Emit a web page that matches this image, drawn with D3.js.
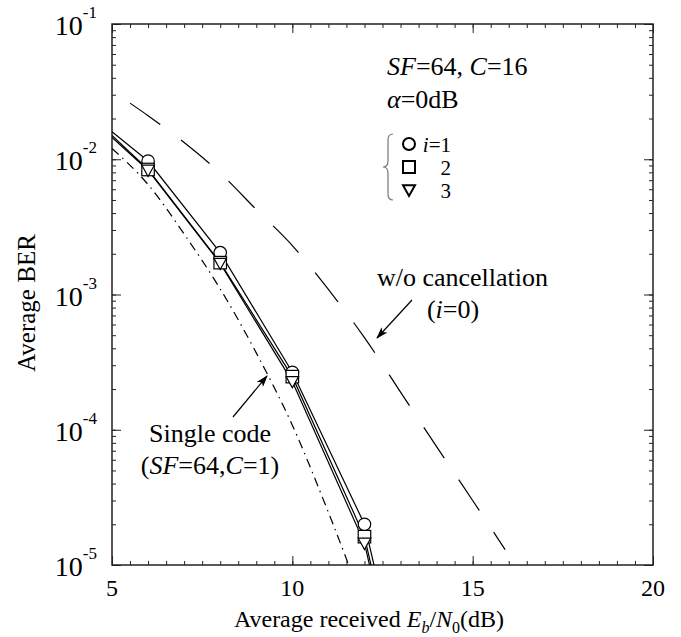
<!DOCTYPE html>
<html lang="en">
<head>
<meta charset="UTF-8">
<title>Average BER vs Eb/N0</title>
<script src="https://d3js.org/d3.v7.min.js"></script>
<style>
    body { margin: 0; background: #fff; }
    svg { font-family: "Liberation Serif", "DejaVu Serif", serif; }
</style>
</head>
<body>
<svg id="chart" width="681" height="637"></svg>
<script>
    // Eb/N0 (dB) for the multi-code curves, i = 1, 2, 3
    let snr = [5, 6, 8, 10, 12, 12.4]
    let berI1 = [1.6e-2, 9.7e-3, 2.04e-3, 2.66e-4, 2.0e-5, 7.0e-6]
    let berI2 = [1.5e-2, 8.4e-3, 1.72e-3, 2.47e-4, 1.62e-5, 5.6e-6]
    let berI3 = [1.45e-2, 8.3e-3, 1.70e-3, 2.27e-4, 1.45e-5, 5.0e-6]
    let markerSnr = [6, 8, 10, 12]

    // single code (SF=64, C=1), dash-dot
    let snrSingle = [5, 6, 7, 8, 9, 10, 11, 12]
    let berSingle = [1.2e-2, 6.5e-3, 2.8e-3, 1.1e-3, 3.7e-4, 1.08e-4, 2.45e-5, 4.9e-6]

    // without cancellation (i=0), long dash
    let snrNoCanc = [5.5, 6, 7, 8, 9, 10, 11, 12, 13, 14, 15, 15.9]
    let berNoCanc = [2.6e-2, 2.1e-2, 1.33e-2, 7.9e-3, 4.25e-3, 2.3e-3, 1.09e-3, 4.8e-4, 1.9e-4, 7.5e-5, 3.0e-5, 1.3e-5]

    let xTicks = [5, 10, 15, 20]
    let yTicks = [1e-5, 1e-4, 1e-3, 1e-2, 1e-1]

    let pLeft = 112, pRight = 653, pTop = 24, pBottom = 565

    let svg = d3.select("#chart")
    let x = d3.scaleLinear().domain([5, 20]).range([pLeft, pRight])
    let y = d3.scaleLog().domain([1e-5, 1e-1]).range([pBottom, pTop])

    let defs = svg.append("defs")
    defs.append("clipPath").attr("id", "plotClip")
        .append("rect")
        .attr("x", pLeft).attr("y", pTop)
        .attr("width", pRight - pLeft).attr("height", pBottom - pTop)
    defs.append("marker")
        .attr("id", "arrowHead")
        .attr("viewBox", "0 0 12 8")
        .attr("refX", 11).attr("refY", 4)
        .attr("markerWidth", 12).attr("markerHeight", 8)
        .attr("markerUnits", "userSpaceOnUse")
        .attr("orient", "auto")
        .append("path")
        .attr("d", "M0,0 L12,4 L0,8 L3,4 Z")
        .attr("fill", "black")

    // minor ticks (every 0.5 dB / 2..9 per decade)
    let xMinor = d3.range(5, 20.01, 0.5)
    let yMinor = []
    yTicks.slice(0, 4).forEach(d => {
        for (let k = 1; k < 10; k++) yMinor.push(d * k)
    })
    yMinor.push(1e-1)

    function tickAxis(makeAxis, minorVals, majorVals, transform) {
        svg.append("g").attr("transform", transform)
            .call(makeAxis().tickValues(minorVals).tickSize(-4).tickFormat(""))
            .call(g => g.select(".domain").remove())
            .call(g => g.selectAll("line").attr("stroke", "#222"))
        svg.append("g").attr("transform", transform)
            .call(makeAxis().tickValues(majorVals).tickSize(-9).tickFormat(""))
            .call(g => g.select(".domain").remove())
            .call(g => g.selectAll("line").attr("stroke", "#222"))
    }
    tickAxis(() => d3.axisBottom(x), xMinor, xTicks, `translate(0,${pBottom})`)
    tickAxis(() => d3.axisTop(x), xMinor, xTicks, `translate(0,${pTop})`)
    tickAxis(() => d3.axisLeft(y), yMinor, yTicks, `translate(${pLeft},0)`)
    tickAxis(() => d3.axisRight(y), yMinor, yTicks, `translate(${pRight},0)`)

    svg.append("rect")
        .attr("x", pLeft).attr("y", pTop)
        .attr("width", pRight - pLeft).attr("height", pBottom - pTop)
        .attr("fill", "none").attr("stroke", "#222").attr("stroke-width", 1.5)

    // tick labels
    svg.append("g").selectAll("text")
        .data(xTicks).join("text")
        .attr("x", d => x(d)).attr("y", pBottom + 31)
        .attr("text-anchor", "middle")
        .attr("font-size", 24)
        .text(d => d)

    let yLab = svg.append("g").selectAll("text")
        .data(yTicks).join("text")
        .attr("x", 97).attr("y", d => y(d) + 11)
        .attr("text-anchor", "end")
        .attr("font-size", 28)
    yLab.append("tspan").text("10")
    yLab.append("tspan").attr("font-size", 17).attr("dy", -17)
        .text(d => "-" + Math.round(-Math.log10(d)))

    // axis titles
    let xTitle = svg.append("text")
        .attr("x", 369).attr("y", 627)
        .attr("text-anchor", "middle")
        .attr("font-size", 24)
    xTitle.append("tspan").text("Average received ")
    xTitle.append("tspan").attr("font-style", "italic").text("E")
    xTitle.append("tspan").attr("font-style", "italic").attr("font-size", 16).attr("dy", 6).text("b")
    xTitle.append("tspan").attr("dy", -6).text("/")
    xTitle.append("tspan").attr("font-style", "italic").text("N")
    xTitle.append("tspan").attr("font-size", 16).attr("dy", 6).text("0")
    xTitle.append("tspan").attr("dy", -6).text("(dB)")

    svg.append("text")
        .attr("transform", "translate(35,303) rotate(-90)")
        .attr("text-anchor", "middle")
        .attr("font-size", 25)
        .text("Average BER")

    // curves
    let plot = svg.append("g").attr("clip-path", "url(#plotClip)")
    let smooth = d3.line()
        .x(d => x(d[0])).y(d => y(d[1]))
        .curve(d3.curveMonotoneX)
    let straight = d3.line()
        .x(d => x(d[0])).y(d => y(d[1]))

    let zip = (a, b) => a.map((v, i) => [v, b[i]])

    plot.append("path").datum(zip(snrNoCanc, berNoCanc))
        .attr("d", smooth).attr("fill", "none")
        .attr("stroke", "black").attr("stroke-width", 1.2)
        .attr("stroke-dasharray", "37,26")
    plot.append("path").datum(zip(snrSingle, berSingle))
        .attr("d", smooth).attr("fill", "none")
        .attr("stroke", "black").attr("stroke-width", 1.2)
        .attr("stroke-dasharray", "9,5,1.5,5")

    let series = [
        {ber: berI1, shape: "circle"},
        {ber: berI2, shape: "square"},
        {ber: berI3, shape: "triangle"}
    ]
    series.forEach(s => {
        plot.append("path").datum(zip(snr, s.ber))
            .attr("d", straight).attr("fill", "none")
            .attr("stroke", "black").attr("stroke-width", 1.2)
    })

    function drawMarker(g, shape, cx, cy, size, sw) {
        let r = size / 2
        let el
        if (shape === "circle") {
            el = g.append("circle").attr("cx", cx).attr("cy", cy).attr("r", r)
        } else if (shape === "square") {
            el = g.append("rect").attr("x", cx - r).attr("y", cy - r)
                .attr("width", size).attr("height", size)
        } else {
            el = g.append("path")
                .attr("d", `M${cx - r},${cy - r * 0.8} L${cx + r},${cy - r * 0.8} L${cx},${cy + r} Z`)
        }
        el.attr("fill", "white").attr("stroke", "black").attr("stroke-width", sw)
    }

    let markG = svg.append("g")
    series.forEach(s => {
        zip(snr, s.ber).filter(d => markerSnr.includes(d[0])).forEach(d => {
            drawMarker(markG, s.shape, x(d[0]), y(d[1]), 12.5, 1.2)
        })
    })

    // annotations
    let t1 = svg.append("text").attr("x", 387).attr("y", 75).attr("font-size", 26)
    t1.append("tspan").attr("font-style", "italic").text("SF")
    t1.append("tspan").text("=64, ")
    t1.append("tspan").attr("font-style", "italic").text("C")
    t1.append("tspan").text("=16")

    let t2 = svg.append("text").attr("x", 387).attr("y", 108).attr("font-size", 26)
    t2.append("tspan").attr("font-style", "italic").text("α")
    t2.append("tspan").text("=0dB")

    // legend
    let legendShapes = ["circle", "square", "triangle"]
    let legendLabels = ["1", "2", "3"]
    let legendY = [144, 167, 190]
    let legG = svg.append("g")
    legendShapes.forEach((sh, i) => {
        drawMarker(legG, sh, 409, legendY[i], 12, 2)
        let t = legG.append("text").attr("x", 451).attr("y", legendY[i] + 8)
            .attr("text-anchor", "end").attr("font-size", 21)
        if (i === 0) {
            t.append("tspan").attr("font-style", "italic").text("i")
            t.append("tspan").text("=")
        }
        t.append("tspan").text(legendLabels[i])
    })
    legG.append("path")
        .attr("d", "M393,134 Q388,134 388,140 L388,161 Q388,167 383,167 Q388,167 388,173 L388,194 Q388,200 393,200")
        .attr("fill", "none").attr("stroke", "#777").attr("stroke-width", 1.2)

    // w/o cancellation label + arrow
    svg.append("text").attr("x", 548).attr("y", 286)
        .attr("text-anchor", "end").attr("font-size", 26)
        .text("w/o cancellation")
    let t3 = svg.append("text").attr("x", 453).attr("y", 318)
        .attr("text-anchor", "middle").attr("font-size", 26)
    t3.append("tspan").text("(")
    t3.append("tspan").attr("font-style", "italic").text("i")
    t3.append("tspan").text("=0)")
    svg.append("line")
        .attr("x1", 412).attr("y1", 300).attr("x2", 377).attr("y2", 338)
        .attr("stroke", "black").attr("stroke-width", 1.2)
        .attr("marker-end", "url(#arrowHead)")

    // single code label + arrow
    svg.append("text").attr("x", 210).attr("y", 442)
        .attr("text-anchor", "middle").attr("font-size", 26)
        .text("Single code")
    let t4 = svg.append("text").attr("x", 210).attr("y", 474)
        .attr("text-anchor", "middle").attr("font-size", 26)
    t4.append("tspan").text("(")
    t4.append("tspan").attr("font-style", "italic").text("SF")
    t4.append("tspan").text("=64,")
    t4.append("tspan").attr("font-style", "italic").text("C")
    t4.append("tspan").text("=1)")
    svg.append("line")
        .attr("x1", 233).attr("y1", 417).attr("x2", 267).attr("y2", 376)
        .attr("stroke", "black").attr("stroke-width", 1.2)
        .attr("marker-end", "url(#arrowHead)")
</script>
</body>
</html>
